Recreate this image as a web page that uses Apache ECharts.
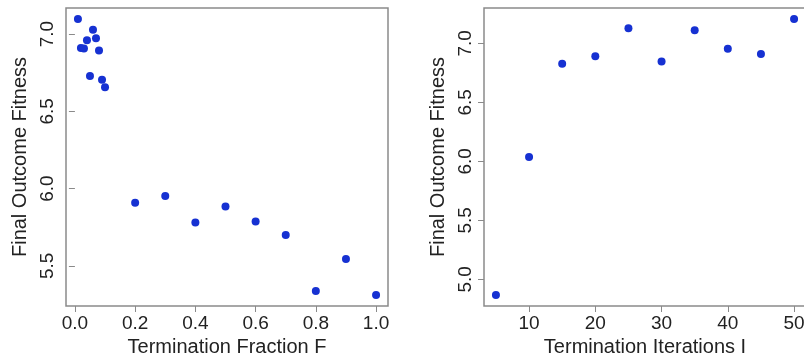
<!DOCTYPE html>
<html>
<head>
<meta charset="utf-8">
<script src="https://cdn.jsdelivr.net/npm/echarts@6/dist/echarts.min.js"></script>
<style>
  html, body { margin: 0; padding: 0; background: #fff; }
  #chart { width: 804px; height: 360px; }
</style>
</head>
<body>
<div id="chart"></div>
<script>
// left panel: termination fraction F
var fracF = [0.01, 0.02, 0.03, 0.04, 0.05, 0.06, 0.07, 0.08, 0.09, 0.1,
	0.2, 0.3, 0.4, 0.5, 0.6, 0.7, 0.8, 0.9, 1.0];
var fitnessF = [7.097, 6.909, 6.907, 6.959, 6.728, 7.028, 6.972, 6.894, 6.704, 6.655,
	5.909, 5.952, 5.780, 5.884, 5.788, 5.700, 5.338, 5.545, 5.312];
var ticksF = [0, 0.2, 0.4, 0.6, 0.8, 1.0];
var ticksFitnessF = [5.5, 6.0, 6.5, 7.0];

// right panel: termination iterations I
var itersI = [5, 10, 15, 20, 25, 30, 35, 40, 45, 50];
var fitnessI = [4.867, 6.037, 6.827, 6.890, 7.127, 6.847, 7.110, 6.954, 6.909, 7.206];
var ticksI = [10, 20, 30, 40, 50];
var ticksFitnessI = [5.0, 5.5, 6.0, 6.5, 7.0];

var FONT = 'Liberation Sans';
var GREY = '#8a8a8a';
var DOT = '#1631d2';

// R style range: data range padded 4% each side
function pad(arr) {
	var lo = Math.min.apply(null, arr);
	var hi = Math.max.apply(null, arr);
	var d = (hi - lo) * 0.04;
	return [lo - d, hi + d];
}

function xAxisOf(idx, data, ticks, name, fmt) {
	var r = pad(data);
	return {
		gridIndex: idx,
		type: 'value',
		min: r[0],
		max: r[1],
		name: name,
		nameLocation: 'middle',
		nameGap: 31,
		nameTextStyle: { fontFamily: FONT, fontSize: 20, color: '#222' },
		axisLine: { show: false },
		splitLine: { show: false },
		axisTick: { show: true, inside: false, length: 6, customValues: ticks, lineStyle: { color: GREY } },
		axisLabel: {
			customValues: ticks, margin: 8, fontFamily: FONT, fontSize: 19, color: '#222',
			formatter: fmt
		}
	};
}

function yAxisOf(idx, data, ticks) {
	var r = pad(data);
	return {
		gridIndex: idx,
		type: 'value',
		min: r[0],
		max: r[1],
		name: 'Final Outcome Fitness',
		nameLocation: 'middle',
		nameGap: 36,
		nameTextStyle: { fontFamily: FONT, fontSize: 20, color: '#222' },
		axisLine: { show: false },
		splitLine: { show: false },
		axisTick: { show: true, inside: false, length: 6, customValues: ticks, lineStyle: { color: GREY } },
		axisLabel: {
			customValues: ticks, rotate: 90, margin: 9, fontFamily: FONT, fontSize: 19, color: '#222',
			formatter: function (v) { return v.toFixed(1); }
		}
	};
}

var chart = echarts.init(document.getElementById('chart'));
chart.setOption({
	animation: false,
	backgroundColor: '#fff',
	grid: [
		{ left: 66, top: 8, width: 322, height: 298, outerBoundsMode: 'none', show: true, borderColor: GREY, borderWidth: 1.5, backgroundColor: 'transparent' },
		// right box runs a little past the page edge, as in the source image
		{ left: 484, top: 8, width: 322, height: 298, outerBoundsMode: 'none', show: true, borderColor: GREY, borderWidth: 1.5, backgroundColor: 'transparent' }
	],
	xAxis: [
		xAxisOf(0, fracF, ticksF, 'Termination Fraction F', function (v) { return v.toFixed(1); }),
		xAxisOf(1, itersI, ticksI, 'Termination Iterations I', function (v) { return String(v); })
	],
	yAxis: [
		yAxisOf(0, fitnessF, ticksFitnessF),
		yAxisOf(1, fitnessI, ticksFitnessI)
	],
	series: [
		{
			type: 'scatter', xAxisIndex: 0, yAxisIndex: 0, symbolSize: 8,
			itemStyle: { color: DOT, opacity: 1 },
			data: fracF.map(function (x, i) { return [x, fitnessF[i]]; })
		},
		{
			type: 'scatter', xAxisIndex: 1, yAxisIndex: 1, symbolSize: 8,
			itemStyle: { color: DOT, opacity: 1 },
			data: itersI.map(function (x, i) { return [x, fitnessI[i]]; })
		}
	]
});
</script>
</body>
</html>
